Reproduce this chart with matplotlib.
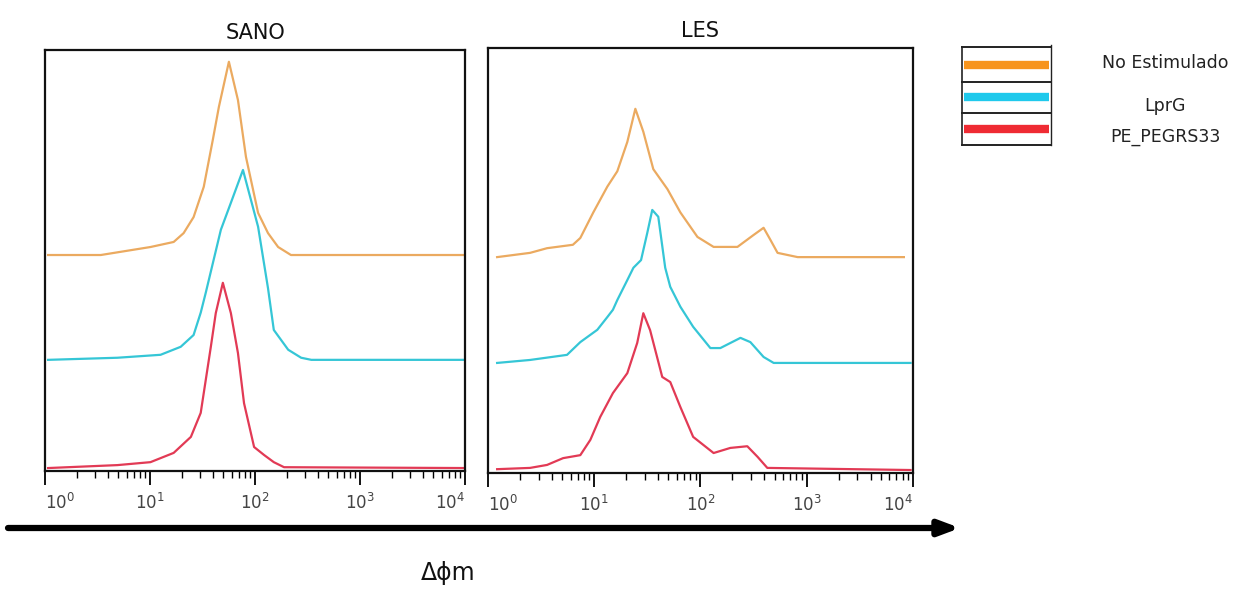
import matplotlib.pyplot as plt
from matplotlib.ticker import LogLocator, NullFormatter, FixedLocator, FixedFormatter

# series names and colours
names = ["No Estimulado", "LprG", "PE_PEGRS33"]
line_colors = ["#EBAA60", "#35C6D6", "#E23A55"]
legend_colors = ["#F7941D", "#1FC9EC", "#EF2B33"]

# SANO: fluorescence value (x) and relative count above baseline (h)
sano_orange_x = [1.07, 3.4, 10.1, 16.8, 20.9, 26, 32.5, 39.6, 45.3, 56.4, 68.8, 82, 107, 133, 166, 220, 10000]
sano_orange_h = [0, 0, 1.9, 3.1, 5.2, 9.0, 16.2, 27.3, 35.2, 45.9, 36.8, 23.3, 10.0, 5.2, 1.9, 0, 0]
sano_cyan_x = [1.07, 4.9, 12.6, 19.6, 26, 30.4, 34, 47.3, 58.9, 76.8, 107, 133, 151, 207, 275, 344, 10000]
sano_cyan_h = [0, 0.5, 1.2, 3.1, 5.9, 11.2, 16, 30.9, 37.3, 45.1, 31.6, 17, 7.1, 2.4, 0.5, 0, 0]
sano_red_x = [1.07, 4.9, 10.1, 16.8, 24.5, 30.4, 37.9, 42.3, 49.4, 58.9, 68.8, 78.6, 98, 122, 151, 189, 10000]
sano_red_h = [0, 0.7, 1.4, 3.6, 7.4, 13.1, 28.7, 36.8, 44, 36.8, 27.3, 15.4, 5, 3.1, 1.4, 0.2, 0]

# LES
les_orange_x = [1.22, 2.49, 3.6, 6.3, 7.4, 9.8, 13.3, 16.5, 20.5, 24.4, 29, 36, 48.9, 64.8, 93.7, 133, 223, 316, 393, 457, 532, 822, 8220]
les_orange_h = [0, 1, 2.1, 2.9, 4.5, 10.5, 16.6, 20.2, 27.1, 34.9, 29.5, 20.7, 16, 10.5, 4.75, 2.4, 2.4, 5.2, 6.9, 4, 1, 0, 0]
les_cyan_x = [1.22, 2.49, 5.55, 7.4, 10.7, 13.3, 15, 16.5, 20.5, 23.4, 27.6, 31.6, 35.2, 40.1, 46.6, 52, 64.8, 85.4, 124, 154, 238, 295, 393, 489, 9500]
les_cyan_h = [0, 0.7, 1.9, 4.9, 7.8, 10.8, 12.5, 14.8, 19.5, 22.4, 24.2, 30.6, 36, 34.4, 22.4, 17.9, 13.2, 8.5, 3.5, 3.5, 5.9, 4.9, 1.4, 0, 0]
les_red_x = [1.22, 2.49, 3.6, 5.1, 7.4, 9.2, 11.4, 15, 20.5, 25.4, 29, 33.6, 43.7, 52, 64.8, 85.4, 133, 191, 276, 345, 426, 9500]
les_red_h = [0.2, 0.5, 1.2, 2.8, 3.5, 7.1, 12.5, 18.1, 22.8, 29.9, 36.9, 32.9, 21.9, 20.7, 14.8, 7.8, 4, 5.2, 5.6, 3.1, 0.5, 0]

sano_offsets = [51.3, 26.4, 0.7]
les_offsets = [50.8, 25.9, 0.7]

panels = [
    ("SANO", [(sano_orange_x, sano_orange_h), (sano_cyan_x, sano_cyan_h), (sano_red_x, sano_red_h)], sano_offsets,
     [0.0361, 0.2017, 0.3368, 0.7136]),
    ("LES", [(les_orange_x, les_orange_h), (les_cyan_x, les_cyan_h), (les_red_x, les_red_h)], les_offsets,
     [0.3913, 0.1983, 0.3408, 0.7203]),
]
tick_values = [1, 10, 100, 1000, 10000]
tick_labels = ["$10^0$", "$10^1$", "$10^2$", "$10^3$", "$10^4$"]

fig = plt.figure(figsize=(12.47, 5.90), dpi=100)

for title, curves, offsets, rect in panels:
    ax = fig.add_axes(rect)
    for (xs, hs), off, col in zip(curves, offsets, line_colors):
        ax.plot(xs, [h + off for h in hs], color=col, lw=1.6, solid_joinstyle="round")
    ax.set_xscale("log")
    ax.set_xlim(1, 10000)
    ax.set_ylim(0, 100)
    ax.set_yticks([])
    ax.xaxis.set_major_locator(FixedLocator(tick_values))
    ax.xaxis.set_major_formatter(FixedFormatter(tick_labels))
    ax.xaxis.set_minor_locator(LogLocator(base=10, subs=range(2, 10), numticks=20))
    ax.xaxis.set_minor_formatter(NullFormatter())
    ax.tick_params(axis="x", which="major", direction="out", length=10, width=1.3,
                   labelsize=12, labelcolor="#444444", pad=6)
    ax.tick_params(axis="x", which="minor", direction="out", length=5, width=1.0)
    # first label sits right of its tick, last one left of it (as in the figure)
    fig.canvas.draw()
    labs = ax.get_xticklabels()
    labs[0].set_ha("left")
    labs[-1].set_ha("right")
    for sp in ax.spines.values():
        sp.set_linewidth(1.6)
        sp.set_color("#111111")
    ax.set_title(title, fontsize=15, pad=8, color="#111111")

# overlay in pixel coordinates for the arrow, axis label and legend
ov = fig.add_axes([0, 0, 1, 1], facecolor="none")
ov.set_xlim(0, 1247)
ov.set_ylim(590, 0)
ov.axis("off")

ov.annotate("", xy=(960, 528), xytext=(8, 528),
            arrowprops=dict(arrowstyle="-|>,head_length=1.2,head_width=0.45", lw=4.5, color="black",
                            shrinkA=0, shrinkB=0))
ov.text(448, 573, "Δϕm", fontsize=17, ha="center", va="center", color="#111111")

# legend box
lx0, lx1 = 962, 1051
for y in [47, 82, 113, 145]:
    ov.plot([lx0, lx1], [y, y], color="#222222", lw=1.4)
ov.plot([lx0, lx0], [47, 145], color="#222222", lw=1.2)
ov.plot([lx1, lx1], [45, 145], color="#222222", lw=1.0)
label_y = [63, 106, 137]
for col, bar_y, name, ty in zip(legend_colors, [65, 97, 129], names, label_y):
    ov.plot([lx0 + 2, lx1 - 2], [bar_y, bar_y], color=col, lw=6, solid_capstyle="butt")
    ov.text(1165, ty, name, fontsize=12.5, ha="center", va="center", color="#222222")

fig.savefig("out.png", dpi=100)
